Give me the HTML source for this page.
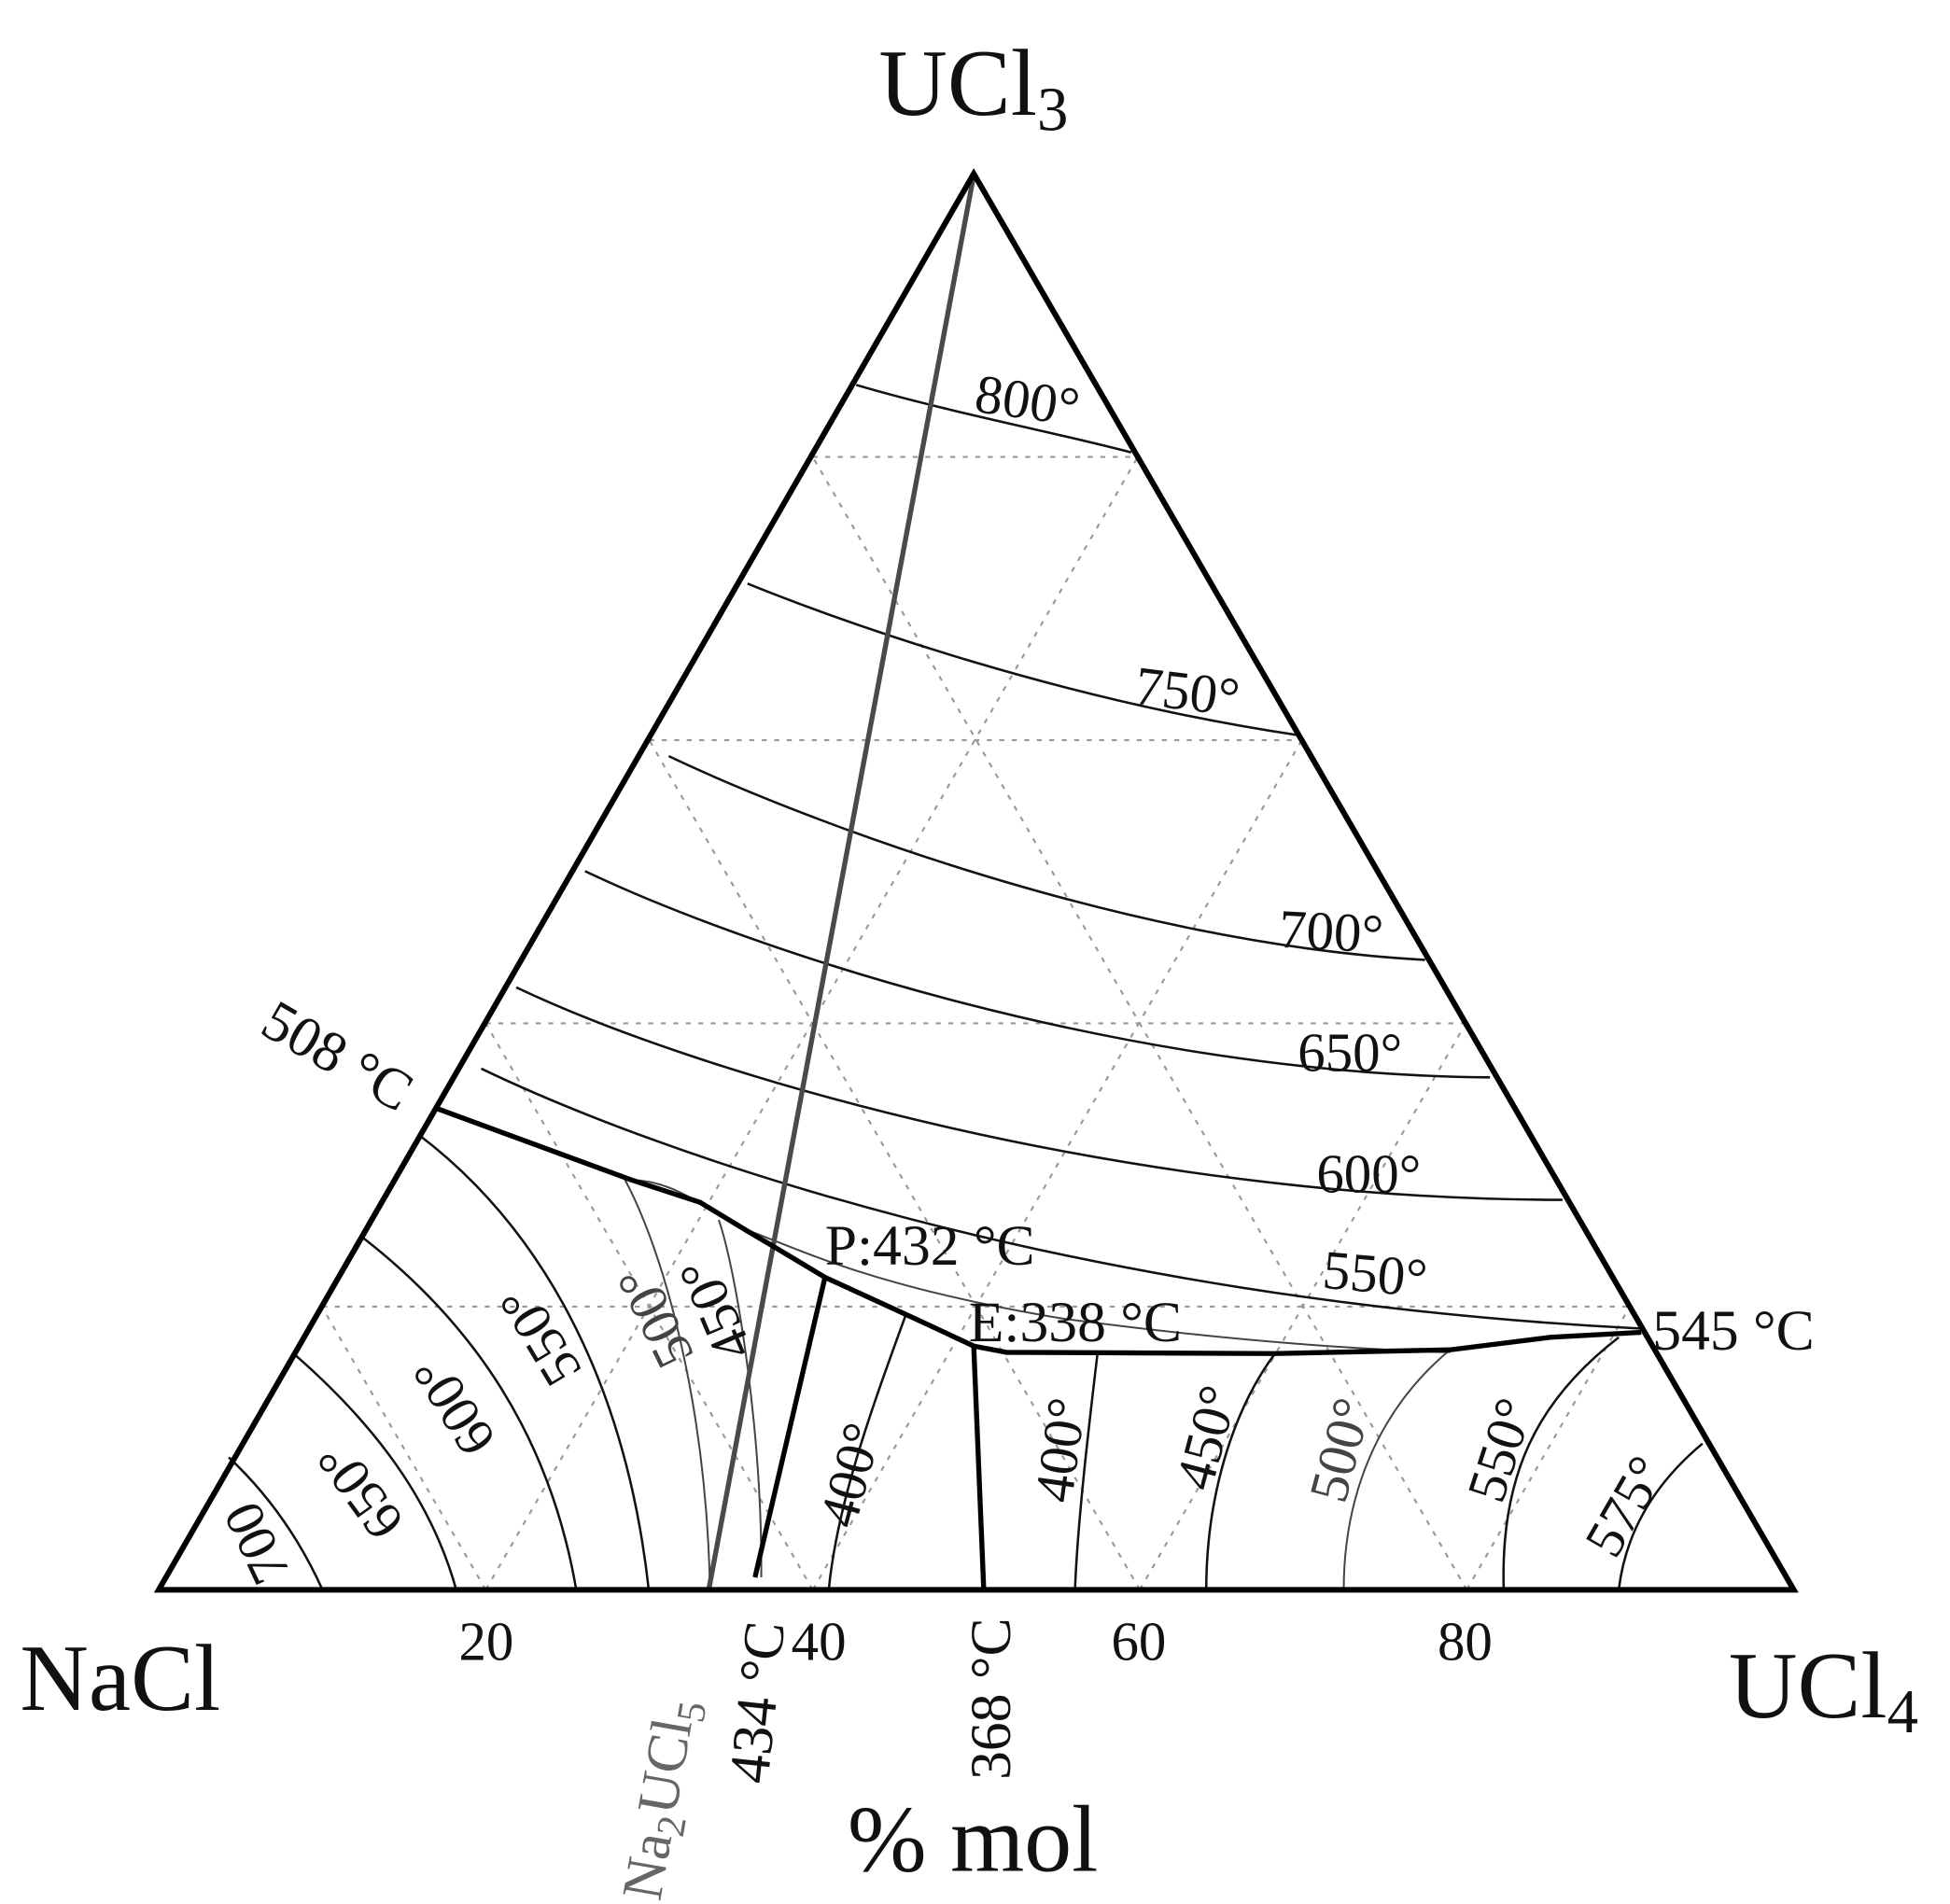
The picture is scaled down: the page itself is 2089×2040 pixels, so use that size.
<!DOCTYPE html>
<html><head><meta charset="utf-8"><style>html,body{margin:0;padding:0;background:#fff;}svg{display:block}</style></head>
<body>
<svg width="2089" height="2040" viewBox="0 0 1560 1523.4" preserveAspectRatio="none" xmlns="http://www.w3.org/2000/svg" font-family="'Liberation Serif', serif">
<g stroke="#999" stroke-width="1.6" stroke-dasharray="4 6" fill="none">
<line x1="257.8" y1="1045.4" x2="1303.8" y2="1045.4"/>
<line x1="388.6" y1="818.8" x2="1172.6" y2="818.8"/>
<line x1="519.4" y1="592.2" x2="1041.4" y2="592.2"/>
<line x1="650.2" y1="365.6" x2="910.2" y2="365.6"/>
<line x1="388.6" y1="1272" x2="257.4" y2="1045.4"/>
<line x1="650.2" y1="1272" x2="388.6" y2="818.8"/>
<line x1="911.8" y1="1272" x2="519.4" y2="592.2"/>
<line x1="1173.4" y1="1272" x2="650.2" y2="365.6"/>
<line x1="388.6" y1="1272" x2="910.2" y2="365.6"/>
<line x1="650.2" y1="1272" x2="1041.4" y2="592.2"/>
<line x1="911.8" y1="1272" x2="1172.6" y2="818.8"/>
<line x1="1173.4" y1="1272" x2="1303.8" y2="1045.4"/>
</g>
<g fill="none" stroke="#111" stroke-width="1.9">
<path d="M685,308 C760,330 840,345 905,362"/>
<path d="M598,467 C680,500 850,560 1037,588"/>
<path d="M535,605 C640,655 900,755 1140,768"/>
<path d="M468,697 C600,760 900,860 1192,862"/>
<path d="M413,790 C560,860 900,960 1250,960"/>
<path d="M385,855 C520,920 850,1040 1313,1063"/>
<path d="M183,1166 Q230,1210 258,1272"/>
<path d="M236,1084 C300,1140 345,1200 365,1272"/>
<path d="M290,990 C380,1060 440,1150 461,1272"/>
<path d="M335,908 C430,980 500,1100 519,1272"/>
<path d="M725,1051 C700,1120 670,1200 663,1272"/>
<path d="M878,1083 C870,1150 862,1220 860,1272"/>
<path d="M1020,1083 C985,1130 965,1200 965,1272"/>
<path d="M1295,1070 C1230,1120 1200,1180 1203,1272"/>
<path d="M1362,1155 C1320,1190 1300,1230 1295,1272"/>
</g>
<g fill="none" stroke="#444" stroke-width="1.5">
<path d="M505,944 C540,945 560,965 600,985 C640,1000 700,1030 850,1055 C1000,1075 1100,1080 1160,1082"/>
<path d="M500,944 C530,1000 565,1120 568,1272"/>
<path d="M575,976 C590,1020 610,1150 609,1262"/>
<path d="M1160,1080 C1100,1130 1075,1200 1075,1272"/>
</g>
<line x1="779" y1="140" x2="567" y2="1272" stroke="#4a4a4a" stroke-width="4"/>
<g fill="none" stroke="#000" stroke-width="4" stroke-linejoin="round">
<path d="M347,886 L505,944 L560,962 L598,985 L620,998 L660,1022 L732,1055 L779,1077 L805,1082 L1020,1083 L1160,1080 L1240,1070 L1313,1066"/>
<path d="M779,1077 L787,1272"/>
<path d="M660,1022 L604,1262"/>
</g>
<polygon points="127,1272 1435,1272 779,139" fill="none" stroke="#000" stroke-width="4.5" stroke-linejoin="miter"/>
<g font-size="44" fill="#111" text-anchor="middle">
<text x="822" y="335" transform="rotate(8 822 320)">800°</text>
<text x="950" y="568" transform="rotate(7 950 552)">750°</text>
<text x="1065" y="760" transform="rotate(3 1065 745)">700°</text>
<text x="1080" y="857">650°</text>
<text x="1095" y="954">600°</text>
<text x="1100" y="1034" transform="rotate(5 1100 1020)">550°</text>
<text x="205" y="1250" transform="rotate(-115 205 1235)">700</text>
<text x="288" y="1208" transform="rotate(-126 288 1193)">650°</text>
<text x="363" y="1140" transform="rotate(-122 363 1125)">600°</text>
<text x="432" y="1084" transform="rotate(-121 432 1069)">550°</text>
<text x="524" y="1069" transform="rotate(-116 524 1054)" fill="#444">500°</text>
<text x="572" y="1063" transform="rotate(-113 572 1048)">450°</text>
<text x="680" y="1195" transform="rotate(-75 680 1180)">400°</text>
<text x="848" y="1175" transform="rotate(-82 848 1160)">400°</text>
<text x="965" y="1165" transform="rotate(-75 965 1150)">450°</text>
<text x="1072" y="1175" transform="rotate(-75 1072 1160)" fill="#444">500°</text>
<text x="1200" y="1175" transform="rotate(-72 1200 1160)">550°</text>
<text x="1300" y="1220" transform="rotate(-60 1300 1205)">575°</text>
<text x="389" y="1328">20</text>
<text x="655" y="1328">40</text>
<text x="911" y="1328">60</text>
<text x="1172" y="1328">80</text>
</g>
<g font-size="46" fill="#111">
<text x="660" y="1012">P:432 °C</text>
<text x="775" y="1073">E:338 °C</text>
<text x="1322" y="1080">545 °C</text>
<text x="270" y="860" text-anchor="middle" transform="rotate(30 270 845)">508 °C</text>
<text transform="translate(528,1522) rotate(-80)" fill="#666" font-size="46">Na<tspan font-size="32" dy="9">2</tspan><tspan dy="-9">UCl</tspan><tspan font-size="32" dy="9">5</tspan></text>
<text transform="translate(614,1428) rotate(-84)">434 °C</text>
<text transform="translate(808,1424) rotate(-90)">368 °C</text>
</g>
<g font-size="76" fill="#111">
<text x="703" y="92">UCl<tspan font-size="50" dy="12">3</tspan></text>
<text x="16" y="1368">NaCl</text>
<text x="1383" y="1374">UCl<tspan font-size="50" dy="12">4</tspan></text>
<text x="678" y="1497">% mol</text>
</g>
</svg>
</body></html>
